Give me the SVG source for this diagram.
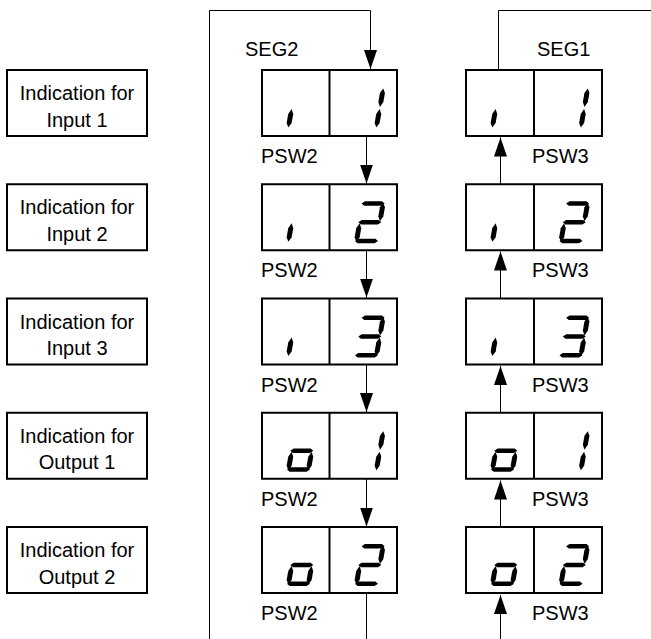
<svg xmlns="http://www.w3.org/2000/svg" xmlns:xlink="http://www.w3.org/1999/xlink" width="651" height="639" viewBox="0 0 651 639">
<style>
.box{fill:#fff;stroke:#000;stroke-width:2}
.ln{fill:none;stroke:#000;stroke-width:1}
.seg{fill:#000}
text{font-family:"Liberation Sans",Arial,sans-serif;font-size:20px;fill:#000}
.c{text-anchor:middle}
</style>
<defs>
<marker id="ah" markerUnits="userSpaceOnUse" markerWidth="20" markerHeight="14" refX="19" refY="6.5" orient="auto">
<path d="M0,0 L19,6.5 L0,13 Z" fill="#000"/>
</marker>
<polygon id="sa" class="seg" points="2,2.25 5,0 22,0 25,2.25 22,4.5 5,4.5"/>
<polygon id="sg" class="seg" points="2,21 5,18.75 22,18.75 25,21 22,23.25 5,23.25"/>
<polygon id="sd" class="seg" points="2,39.75 5,37.5 22,37.5 25,39.75 22,42 5,42"/>
<polygon id="sb" class="seg" points="23.5,1.5 26,6 26,15 23.5,20 21,15 21,6"/>
<polygon id="sc" class="seg" points="23.5,22 26,27 26,36 23.5,40.5 21,36 21,27"/>
<polygon id="se" class="seg" points="3.5,22 6,27 6,36 3.5,40.5 1,36 1,27"/>
<g id="di"><use xlink:href="#se"/></g>
<g id="do"><use xlink:href="#sc"/><use xlink:href="#sd"/><use xlink:href="#se"/><use xlink:href="#sg"/></g>
<g id="d1"><use xlink:href="#sb"/><use xlink:href="#sc"/></g>
<g id="d2"><use xlink:href="#sa"/><use xlink:href="#sb"/><use xlink:href="#sg"/><use xlink:href="#se"/><use xlink:href="#sd"/></g>
<g id="d3"><use xlink:href="#sa"/><use xlink:href="#sb"/><use xlink:href="#sg"/><use xlink:href="#sc"/><use xlink:href="#sd"/></g>
</defs>
<rect width="651" height="639" fill="#fff"/>

<g id="connectors">
<path class="ln" d="M209.5,639 V10.5 H370.5 V69" marker-end="url(#ah)"/>
<path class="ln" d="M366.5,136 V183.5" marker-end="url(#ah)"/>
<path class="ln" d="M366.5,250 V297.5" marker-end="url(#ah)"/>
<path class="ln" d="M366.5,364.5 V412" marker-end="url(#ah)"/>
<path class="ln" d="M366.5,479 V526.5" marker-end="url(#ah)"/>
<path class="ln" d="M366.5,593 V639"/>
<path class="ln" d="M498.5,70 V10.5 H651"/>
<path class="ln" d="M500.5,184 V137.5" marker-end="url(#ah)"/>
<path class="ln" d="M500.5,298.5 V251.5" marker-end="url(#ah)"/>
<path class="ln" d="M500.5,413 V366" marker-end="url(#ah)"/>
<path class="ln" d="M500.5,527 V480.5" marker-end="url(#ah)"/>
<path class="ln" d="M500.5,639 V595" marker-end="url(#ah)"/>
</g>

<g id="label-in1"><rect class="box" x="7" y="70" width="140" height="66"/><text class="c" x="77" y="100">Indication for</text><text class="c" x="77" y="126.5">Input 1</text></g>
<g id="label-in2"><rect class="box" x="7" y="184.25" width="140" height="66"/><text class="c" x="77" y="214.25">Indication for</text><text class="c" x="77" y="240.75">Input 2</text></g>
<g id="label-in3"><rect class="box" x="7" y="298.5" width="140" height="66"/><text class="c" x="77" y="328.5">Indication for</text><text class="c" x="77" y="355">Input 3</text></g>
<g id="label-out1"><rect class="box" x="7" y="412.75" width="140" height="66"/><text class="c" x="77" y="442.75">Indication for</text><text class="c" x="77" y="469.25">Output 1</text></g>
<g id="label-out2"><rect class="box" x="7" y="527" width="140" height="66"/><text class="c" x="77" y="557">Indication for</text><text class="c" x="77" y="583.5">Output 2</text></g>

<g id="seg-labels"><text x="245" y="56">SEG2</text><text x="537" y="56">SEG1</text></g>

<g id="seg2-in1"><rect class="box" x="262" y="70" width="135" height="66"/><line class="box" x1="329.5" y1="70" x2="329.5" y2="136"/>
<use xlink:href="#di" transform="translate(292,87) skewX(-10)"/><use xlink:href="#d1" transform="translate(360,87) skewX(-10)"/></g>
<g id="seg2-in2"><rect class="box" x="262" y="184.25" width="135" height="66"/><line class="box" x1="329.5" y1="184.25" x2="329.5" y2="250.25"/>
<use xlink:href="#di" transform="translate(292,201.25) skewX(-10)"/><use xlink:href="#d2" transform="translate(360,201.25) skewX(-10)"/></g>
<g id="seg2-in3"><rect class="box" x="262" y="298.5" width="135" height="66"/><line class="box" x1="329.5" y1="298.5" x2="329.5" y2="364.5"/>
<use xlink:href="#di" transform="translate(292,315.5) skewX(-10)"/><use xlink:href="#d3" transform="translate(360,315.5) skewX(-10)"/></g>
<g id="seg2-out1"><rect class="box" x="262" y="412.75" width="135" height="66"/><line class="box" x1="329.5" y1="412.75" x2="329.5" y2="478.75"/>
<use xlink:href="#do" transform="translate(292,429.75) skewX(-10)"/><use xlink:href="#d1" transform="translate(360,429.75) skewX(-10)"/></g>
<g id="seg2-out2"><rect class="box" x="262" y="527" width="135" height="66"/><line class="box" x1="329.5" y1="527" x2="329.5" y2="593"/>
<use xlink:href="#do" transform="translate(292,544) skewX(-10)"/><use xlink:href="#d2" transform="translate(360,544) skewX(-10)"/></g>

<g id="seg1-in1"><rect class="box" x="466" y="70" width="136" height="66"/><line class="box" x1="534" y1="70" x2="534" y2="136"/>
<use xlink:href="#di" transform="translate(496,87) skewX(-10)"/><use xlink:href="#d1" transform="translate(564.5,87) skewX(-10)"/></g>
<g id="seg1-in2"><rect class="box" x="466" y="184.25" width="136" height="66"/><line class="box" x1="534" y1="184.25" x2="534" y2="250.25"/>
<use xlink:href="#di" transform="translate(496,201.25) skewX(-10)"/><use xlink:href="#d2" transform="translate(564.5,201.25) skewX(-10)"/></g>
<g id="seg1-in3"><rect class="box" x="466" y="298.5" width="136" height="66"/><line class="box" x1="534" y1="298.5" x2="534" y2="364.5"/>
<use xlink:href="#di" transform="translate(496,315.5) skewX(-10)"/><use xlink:href="#d3" transform="translate(564.5,315.5) skewX(-10)"/></g>
<g id="seg1-out1"><rect class="box" x="466" y="412.75" width="136" height="66"/><line class="box" x1="534" y1="412.75" x2="534" y2="478.75"/>
<use xlink:href="#do" transform="translate(496,429.75) skewX(-10)"/><use xlink:href="#d1" transform="translate(564.5,429.75) skewX(-10)"/></g>
<g id="seg1-out2"><rect class="box" x="466" y="527" width="136" height="66"/><line class="box" x1="534" y1="527" x2="534" y2="593"/>
<use xlink:href="#do" transform="translate(496,544) skewX(-10)"/><use xlink:href="#d2" transform="translate(564.5,544) skewX(-10)"/></g>

<g id="psw-labels">
<text x="261" y="163">PSW2</text><text x="261" y="277.25">PSW2</text><text x="261" y="391.5">PSW2</text><text x="261" y="505.75">PSW2</text><text x="261" y="620">PSW2</text>
<text x="532" y="163">PSW3</text><text x="532" y="277.25">PSW3</text><text x="532" y="391.5">PSW3</text><text x="532" y="505.75">PSW3</text><text x="532" y="620">PSW3</text>
</g>
</svg>
